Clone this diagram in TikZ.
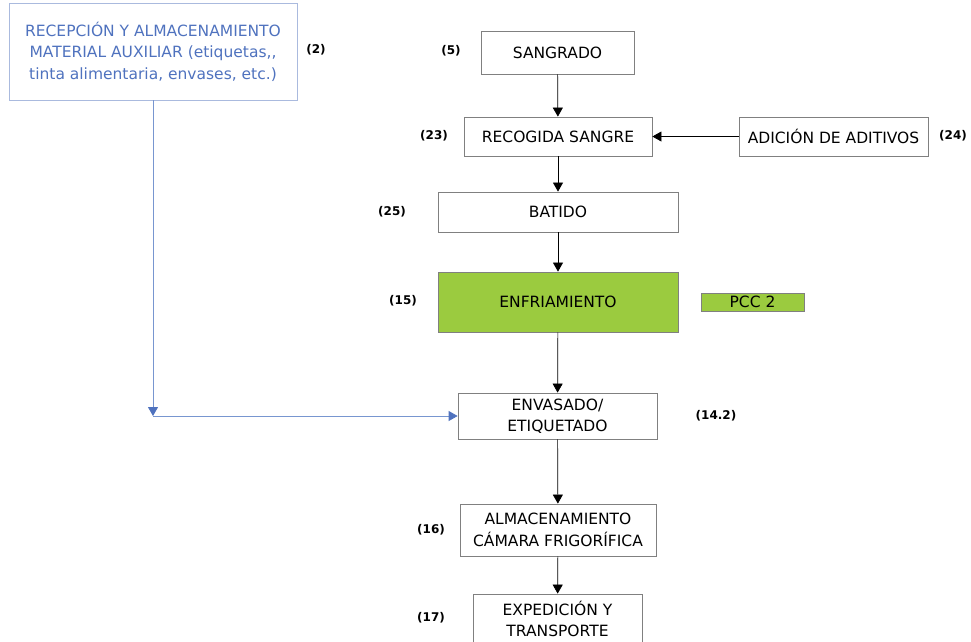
\documentclass[tikz,border=0pt]{standalone}
\usepackage{fontspec}
\setmainfont{DejaVu Sans}
\usetikzlibrary{arrows.meta,positioning}
\definecolor{auxblue}{RGB}{79,114,190}
\definecolor{auxline}{RGB}{120,150,208}
\definecolor{auxframe}{RGB}{170,186,222}
\definecolor{boxgray}{RGB}{128,128,128}
\definecolor{pccgreen}{RGB}{155,203,63}
\tikzset{
  stage/.style={draw=boxgray,line width=0.8pt,align=center,inner sep=0pt,
    font=\fontsize{15.5}{21.5}\selectfont},
  tag/.style={font=\bfseries\fontsize{12}{14}\selectfont},
  flow/.style={-{Triangle[length=9pt,width=10pt]},line width=0.7pt},
  feed/.style={auxline,line width=0.8pt,-{Triangle[length=9pt,width=10pt,color=auxblue]}}
}
\begin{document}
\begin{tikzpicture}[x=1pt,y=-1pt]
\useasboundingbox(0,0)rectangle(971,641);
% material auxiliar
\node[stage,draw=auxframe,text=auxblue,minimum width=288,minimum height=97](aux)at(153,51.5)
  {RECEPCIÓN Y ALMACENAMIENTO\\MATERIAL AUXILIAR (etiquetas,{},\\tinta alimentaria, envases, etc.)};
\node[tag](t2)at(316,50){(2)};
% linea principal
\node[stage,minimum width=153,minimum height=43](sangrado)at(557.5,52.5){SANGRADO};
\node[stage,minimum width=188,minimum height=39](recogida)at(558,136.5){RECOGIDA SANGRE};
\node[stage,minimum width=189,minimum height=39](aditivos)at(833.5,136.5){ADICIÓN DE ADITIVOS};
\node[stage,minimum width=240,minimum height=40](batido)at(558,212){BATIDO};
\node[stage,fill=pccgreen,minimum width=240,minimum height=60](enfriamiento)at(558,302){ENFRIAMIENTO};
\node[stage,fill=pccgreen,minimum width=103,minimum height=18](pcc)at(752.5,302){PCC 2};
\node[stage,minimum width=199,minimum height=46](envasado)at(557.5,416){ENVASADO/\\ETIQUETADO};
\node[stage,minimum width=196,minimum height=52](camara)at(558,530){ALMACENAMIENTO\\CÁMARA FRIGORÍFICA};
\node[stage,minimum width=169,minimum height=50](expedicion)at(557.5,619){EXPEDICIÓN Y\\TRANSPORTE};
% numeros de etapa
\node[tag](t5)at(451,51){(5)};
\node[tag](t23)at(434,136){(23)};
\node[tag](t24)at(953,136){(24)};
\node[tag](t25)at(392,212){(25)};
\node[tag](t15)at(403,301){(15)};
\node[tag](t142)at(716,416){(14.2)};
\node[tag](t16)at(431,530){(16)};
\node[tag](t17)at(431,618){(17)};
% flechas
\draw[flow](sangrado)--(recogida);
\draw[flow](aditivos)--(recogida);
\draw[flow](recogida)--(batido);
\draw[flow](batido)--(enfriamiento);
\draw[flow](enfriamiento)--(envasado);
\draw[flow](envasado)--(camara);
\draw[flow](camara)--(expedicion);
\coordinate(join)at(153,416);
\draw[feed](aux.south)--(join);
\draw[feed](join)--(envasado.west);
\end{tikzpicture}
\end{document}
